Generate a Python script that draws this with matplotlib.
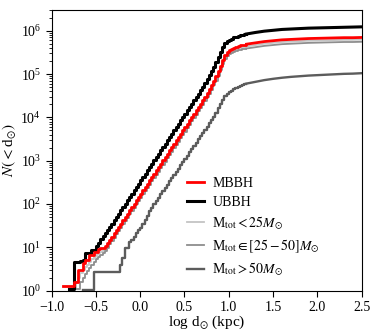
import numpy as np
import matplotlib
matplotlib.use("Agg")
import matplotlib.pyplot as plt

plt.rcParams['font.family'] = ['Liberation Serif', 'DejaVu Serif']
plt.rcParams['mathtext.fontset'] = 'stix'

# bin width of the cumulative histograms (log d, kpc)
bin_w = 0.025
# smooth tail beyond log d = 1.2
tail_x = [1.3, 1.4, 1.5, 1.6, 1.7, 1.8, 1.9, 2.0, 2.1, 2.2, 2.3, 2.4, 2.5]
x_ticks = [-1.0, -0.5, 0.0, 0.5, 1.0, 1.5, 2.0, 2.5]
x_ticklabels = ['\u22121.0', '\u22120.5', '0.0', '0.5', '1.0', '1.5', '2.0', '2.5']

# values are log10 N(<d)
ubbh_start = -0.8
ubbh_fine = [0.04, 0.04, 0.65, 0.65, 0.65, 0.68, 0.71, 0.86, 0.86, 0.86, 0.94, 0.94, 1.02,
             1.09, 1.20, 1.25, 1.32, 1.40, 1.48, 1.55, 1.63, 1.71, 1.78, 1.86, 1.94, 2.01, 2.09,
             2.17, 2.24, 2.32, 2.40, 2.47,
             2.55, 2.63, 2.70, 2.78, 2.86, 2.93, 3.01, 3.09, 3.16, 3.24, 3.32, 3.39, 3.47, 3.55,
             3.62, 3.70, 3.78, 3.85, 3.93, 4.01,
             4.08, 4.16, 4.24, 4.32, 4.39, 4.47, 4.55, 4.63, 4.71, 4.80, 4.89, 4.98, 5.07, 5.17,
             5.28, 5.39, 5.51, 5.62, 5.71, 5.76,
             5.79, 5.82, 5.845, 5.865, 5.88, 5.895, 5.905, 5.915, 5.925]
ubbh_tail = [5.96, 5.99, 6.01, 6.03, 6.04, 6.05, 6.06, 6.065, 6.07, 6.075, 6.08, 6.085, 6.09]

mbbh_start = -0.875
mbbh_fine = [0.1, 0.1, 0.1, 0.1, 0.1, 0.21, 0.21, 0.48, 0.48, 0.63, 0.71, 0.71, 0.82, 0.82,
             0.90, 0.90, 0.95, 0.98, 0.98, 1.03,
             1.09, 1.17, 1.24, 1.32, 1.40, 1.47, 1.55, 1.63, 1.70, 1.78, 1.86, 1.93, 2.01, 2.09, 2.16,
             2.24, 2.32, 2.39, 2.47, 2.55, 2.62, 2.70, 2.78, 2.85, 2.93, 3.01, 3.08, 3.16, 3.24,
             3.31, 3.39, 3.47, 3.54, 3.62, 3.70,
             3.77, 3.85, 3.93, 4.01, 4.08, 4.16, 4.24, 4.31, 4.39, 4.47, 4.56, 4.65, 4.74, 4.84,
             4.95, 5.06, 5.19, 5.33, 5.45, 5.52,
             5.56, 5.59, 5.61, 5.63, 5.645, 5.66, 5.67, 5.68, 5.69]
mbbh_tail = [5.72, 5.75, 5.77, 5.79, 5.80, 5.81, 5.82, 5.825, 5.83, 5.835, 5.84, 5.84, 5.845]

low_start = -0.775
low_fine = [0.03, 0.03, 0.2, 0.3, 0.4, 0.48, 0.54, 0.6, 0.66, 0.72, 0.77, 0.82, 0.86, 0.90,
            0.94, 0.98, 1.04,
            1.12, 1.19, 1.27, 1.35, 1.42, 1.50, 1.58, 1.65, 1.73, 1.81, 1.88, 1.96, 2.04, 2.11,
            2.19, 2.27, 2.34, 2.42, 2.50, 2.57, 2.65, 2.73, 2.80, 2.88, 2.96, 3.03, 3.11, 3.19,
            3.26, 3.34, 3.42, 3.49, 3.57, 3.65,
            3.72, 3.80, 3.88, 3.96, 4.03, 4.11, 4.19, 4.26, 4.34, 4.42, 4.51, 4.60, 4.69, 4.79,
            4.90, 5.01, 5.14, 5.28, 5.40, 5.47,
            5.51, 5.54, 5.56, 5.58, 5.595, 5.61, 5.62, 5.63, 5.64]
low_tail = [5.67, 5.70, 5.72, 5.74, 5.75, 5.76, 5.77, 5.775, 5.78, 5.785, 5.79, 5.79, 5.795]

mid_start = -0.725
mid_fine = [0.03, 0.03, 0.2, 0.3, 0.38, 0.45, 0.52, 0.6, 0.66, 0.72, 0.77, 0.82, 0.87, 0.92, 0.98,
            1.07, 1.14, 1.22, 1.30, 1.37, 1.45, 1.53, 1.60, 1.68, 1.76, 1.83, 1.91, 1.99, 2.06,
            2.14, 2.22, 2.29, 2.37, 2.45, 2.52, 2.60, 2.68, 2.75, 2.83, 2.91, 2.98, 3.06, 3.14,
            3.21, 3.29, 3.37, 3.44, 3.52, 3.60,
            3.67, 3.75, 3.83, 3.91, 3.98, 4.06, 4.14, 4.21, 4.29, 4.37, 4.46, 4.55, 4.64, 4.74,
            4.85, 4.96, 5.09, 5.23, 5.35, 5.42,
            5.46, 5.49, 5.51, 5.53, 5.545, 5.56, 5.57, 5.58, 5.59]
mid_tail = [5.62, 5.65, 5.67, 5.69, 5.70, 5.71, 5.72, 5.725, 5.73, 5.735, 5.74, 5.74, 5.745]

high_start = -0.65
high_fine = [0.02, 0.02, 0.02, 0.02, 0.02,
             0.42, 0.42, 0.42, 0.42, 0.42, 0.42, 0.42, 0.42, 0.42, 0.42, 0.42, 0.42,
             0.59, 0.75, 0.98, 0.98, 1.12, 1.17, 1.24, 1.32, 1.40,
             1.45, 1.55, 1.62, 1.72, 1.84, 1.91, 1.99, 2.07, 2.14, 2.22, 2.29, 2.37, 2.44, 2.52,
             2.59, 2.67, 2.74, 2.81, 2.89, 2.96,
             3.04, 3.11, 3.19, 3.26, 3.34, 3.41, 3.49, 3.56, 3.63, 3.71, 3.78, 3.86, 3.94, 4.02,
             4.11, 4.21, 4.31, 4.41, 4.49, 4.54,
             4.58, 4.62, 4.65, 4.68, 4.70, 4.72, 4.74, 4.76, 4.78]
high_tail = [4.82, 4.86, 4.89, 4.915, 4.935, 4.95, 4.965, 4.975, 4.985, 4.995, 5.005, 5.01, 5.02]


def draw(ax, start, fine, tail, label, **kw):
    xf = start + bin_w * np.arange(len(fine))
    ax.plot(xf, 10 ** np.array(fine), drawstyle='steps-post', label=label, **kw)
    ax.plot(np.r_[xf[-1], tail_x], 10 ** np.r_[fine[-1], tail], **kw)


fig = plt.figure(figsize=(3.74, 3.36), dpi=100)
ax = fig.add_axes([0.138, 0.135, 0.829, 0.835])

draw(ax, mbbh_start, mbbh_fine, mbbh_tail, 'MBBH', color='#ff0000', lw=2.0, zorder=4)
draw(ax, ubbh_start, ubbh_fine, ubbh_tail, 'UBBH', color='black', lw=2.2, zorder=3)
draw(ax, low_start, low_fine, low_tail, r'M$_{\rm tot} < 25M_{\odot}$', color='#c4c4c4', lw=1.3, zorder=2)
draw(ax, mid_start, mid_fine, mid_tail, r'M$_{\rm tot} \in [25-50]M_{\odot}$', color='#8e8e8e', lw=1.3, zorder=2)
draw(ax, high_start, high_fine, high_tail, r'M$_{\rm tot} > 50M_{\odot}$', color='#5c5c5c', lw=1.7, zorder=2)

ax.set_yscale('log')
ax.set_xlim(-1.0, 2.5)
ax.set_ylim(1, 3e6)
ax.set_xticks(x_ticks)
ax.set_xticklabels(x_ticklabels)
ax.tick_params(axis='both', which='major', labelsize=10, length=4, direction='out')
ax.tick_params(axis='both', which='minor', length=2, direction='out')

ax.set_xlabel(r'log d$_{\odot}$ (kpc)', fontsize=11, labelpad=0)
ax.set_ylabel(r'$N(<$d$_{\odot})$', fontsize=11, labelpad=2)

ax.legend(loc='upper left', bbox_to_anchor=(0.42, 0.425), frameon=False, fontsize=10,
          handlelength=1.2, handletextpad=0.6, labelspacing=0.4, borderaxespad=0)

fig.savefig('out.png', dpi=100)
